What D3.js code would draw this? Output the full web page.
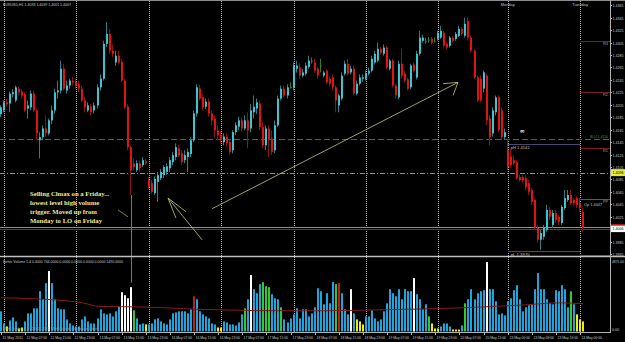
<!DOCTYPE html>
<html><head><meta charset="utf-8">
<script src="https://cdn.jsdelivr.net/npm/d3@7"></script>
<style>html,body{margin:0;padding:0;background:#000;overflow:hidden}svg{display:block}</style>
</head><body>
<svg id="c" width="625" height="342"></svg>
<script>
// ---------------- DATA ----------------
const days = [["11 May",23,23],["12 May",0,23],["13 May",0,23],["16 May",0,23],["17 May",0,23],["18 May",0,23],["19 May",0,23],["20 May",0,22],["23 May",0,23],["24 May",0,1]];
const openP = [
1.4190,1.4196,1.4209,1.4207,1.4222,1.4212,1.4231,1.4226,1.4222,1.4199,
1.4201,1.4223,1.4196,1.4148,1.4153,1.4167,1.4159,1.4180,1.4196,1.4225,
1.4228,1.4263,1.4228,1.4236,1.4244,1.4242,1.4238,1.4231,1.4212,1.4196,
1.4202,1.4196,1.4204,1.4233,1.4247,1.4303,1.4319,1.4292,1.4273,1.4284,
1.4274,1.4244,1.4202,1.4137,1.4111,1.4100,1.4111,1.4108,1.4114,1.4084,
1.4079,1.4063,1.4081,1.4087,1.4092,1.4097,1.4103,1.4113,1.4121,1.4135,
1.4127,1.4116,1.4121,1.4126,1.4148,1.4191,1.4231,1.4217,1.4202,1.4210,
1.4191,1.4183,1.4164,1.4156,1.4145,1.4154,1.4145,1.4132,1.4161,1.4170,
1.4180,1.4167,1.4180,1.4167,1.4193,1.4199,1.4207,1.4169,1.4140,1.4167,
1.4151,1.4132,1.4172,1.4215,1.4231,1.4220,1.4234,1.4233,1.4263,1.4265,
1.4252,1.4255,1.4266,1.4276,1.4273,1.4263,1.4268,1.4252,1.4260,1.4247,
1.4249,1.4233,1.4204,1.4215,1.4255,1.4271,1.4257,1.4263,1.4223,1.4239,
1.4247,1.4247,1.4255,1.4260,1.4273,1.4276,1.4295,1.4287,1.4297,1.4263,
1.4276,1.4236,1.4217,1.4271,1.4255,1.4246,1.4233,1.4270,1.4249,1.4287,
1.4308,1.4308,1.4310,1.4311,1.4308,1.4311,1.4313,1.4321,1.4303,1.4300,
1.4313,1.4311,1.4316,1.4327,1.4316,1.4340,1.4313,1.4292,1.4249,1.4247,
1.4231,1.4252,1.4183,1.4159,1.4193,1.4217,1.4196,1.4153,1.4132,1.4122,
1.4116,1.4113,1.4089,1.4089,1.4087,1.4079,1.4068,1.4052,1.4007,1.3988,
1.3993,1.4004,1.4036,1.4012,1.4031,1.4025,1.4015,1.4039,1.4052,1.4060,
1.4052,1.4055,1.4047,1.4033];
const highP = [
1.4204,1.4212,1.4214,1.4226,1.4230,1.4236,1.4234,1.4230,1.4225,1.4212,
1.4228,1.4228,1.4199,1.4161,1.4172,1.4188,1.4183,1.4204,1.4231,1.4244,
1.4276,1.4270,1.4244,1.4247,1.4250,1.4247,1.4244,1.4236,1.4218,1.4209,
1.4206,1.4209,1.4238,1.4254,1.4308,1.4338,1.4327,1.4302,1.4292,1.4292,
1.4279,1.4247,1.4206,1.4140,1.4119,1.4116,1.4116,1.4121,1.4118,1.4089,
1.4084,1.4090,1.4097,1.4102,1.4108,1.4111,1.4121,1.4129,1.4143,1.4140,
1.4132,1.4132,1.4135,1.4153,1.4196,1.4238,1.4238,1.4222,1.4215,1.4215,
1.4196,1.4188,1.4172,1.4164,1.4159,1.4159,1.4148,1.4164,1.4177,1.4186,
1.4185,1.4188,1.4193,1.4206,1.4220,1.4215,1.4212,1.4177,1.4172,1.4172,
1.4164,1.4180,1.4220,1.4236,1.4236,1.4238,1.4241,1.4273,1.4276,1.4271,
1.4263,1.4273,1.4284,1.4281,1.4279,1.4266,1.4279,1.4260,1.4263,1.4250,
1.4254,1.4236,1.4223,1.4257,1.4276,1.4279,1.4268,1.4268,1.4244,1.4254,
1.4254,1.4260,1.4265,1.4284,1.4292,1.4305,1.4298,1.4302,1.4300,1.4279,
1.4279,1.4239,1.4276,1.4295,1.4260,1.4249,1.4271,1.4273,1.4292,1.4324,
1.4318,1.4313,1.4314,1.4314,1.4313,1.4324,1.4332,1.4324,1.4306,1.4316,
1.4316,1.4322,1.4332,1.4330,1.4345,1.4345,1.4316,1.4295,1.4252,1.4252,
1.4260,1.4255,1.4188,1.4201,1.4220,1.4220,1.4201,1.4167,1.4148,1.4135,
1.4124,1.4116,1.4092,1.4092,1.4092,1.4084,1.4071,1.4055,1.4012,1.4004,
1.4012,1.4044,1.4041,1.4036,1.4036,1.4028,1.4044,1.4068,1.4068,1.4068,
1.4055,1.4058,1.4055,1.4039];
const lowP = [
1.4185,1.4193,1.4202,1.4193,1.4217,1.4209,1.4220,1.4215,1.4193,1.4183,
1.4196,1.4193,1.4148,1.4119,1.4148,1.4153,1.4156,1.4174,1.4191,1.4215,
1.4223,1.4228,1.4223,1.4231,1.4236,1.4231,1.4225,1.4209,1.4193,1.4193,
1.4188,1.4191,1.4199,1.4228,1.4244,1.4298,1.4287,1.4282,1.4268,1.4270,
1.4241,1.4198,1.4132,1.4060,1.4100,1.4097,1.4098,1.4105,1.4108,1.4070,
1.4062,1.4060,1.4049,1.4084,1.4087,1.4092,1.4097,1.4108,1.4116,1.4121,
1.4108,1.4111,1.4097,1.4121,1.4145,1.4186,1.4212,1.4196,1.4198,1.4186,
1.4172,1.4153,1.4148,1.4143,1.4140,1.4138,1.4124,1.4127,1.4156,1.4164,
1.4162,1.4164,1.4135,1.4161,1.4183,1.4190,1.4164,1.4135,1.4132,1.4121,
1.4124,1.4127,1.4169,1.4212,1.4217,1.4215,1.4231,1.4228,1.4257,1.4247,
1.4249,1.4252,1.4263,1.4271,1.4257,1.4247,1.4257,1.4249,1.4238,1.4234,
1.4228,1.4193,1.4193,1.4212,1.4252,1.4252,1.4254,1.4220,1.4220,1.4236,
1.4242,1.4244,1.4252,1.4257,1.4270,1.4273,1.4286,1.4284,1.4262,1.4260,
1.4233,1.4215,1.4214,1.4247,1.4241,1.4228,1.4230,1.4257,1.4246,1.4284,
1.4305,1.4303,1.4305,1.4302,1.4305,1.4308,1.4311,1.4297,1.4294,1.4297,
1.4305,1.4308,1.4314,1.4316,1.4313,1.4308,1.4289,1.4246,1.4209,1.4209,
1.4225,1.4172,1.4140,1.4154,1.4188,1.4161,1.4148,1.4150,1.4100,1.4103,
1.4108,1.4084,1.4081,1.4079,1.4068,1.4060,1.4044,1.4004,1.3983,1.3972,
1.3988,1.4001,1.4020,1.4007,1.4015,1.4012,1.4012,1.4036,1.4049,1.4044,
1.4042,1.4039,1.4033,1.4001];
const closeP = [
1.4201,1.4209,1.4206,1.4223,1.4225,1.4233,1.4225,1.4220,1.4196,1.4204,
1.4223,1.4196,1.4159,1.4153,1.4167,1.4159,1.4180,1.4196,1.4225,1.4228,
1.4263,1.4231,1.4236,1.4244,1.4241,1.4236,1.4231,1.4212,1.4201,1.4204,
1.4193,1.4204,1.4233,1.4247,1.4303,1.4319,1.4292,1.4287,1.4284,1.4273,
1.4244,1.4201,1.4137,1.4100,1.4105,1.4111,1.4103,1.4116,1.4111,1.4073,
1.4065,1.4086,1.4092,1.4097,1.4105,1.4106,1.4116,1.4124,1.4137,1.4124,
1.4113,1.4124,1.4129,1.4148,1.4191,1.4233,1.4215,1.4201,1.4210,1.4191,
1.4180,1.4164,1.4156,1.4148,1.4154,1.4143,1.4129,1.4161,1.4172,1.4180,
1.4167,1.4180,1.4164,1.4196,1.4202,1.4209,1.4169,1.4140,1.4167,1.4148,
1.4129,1.4172,1.4215,1.4231,1.4220,1.4233,1.4234,1.4268,1.4268,1.4252,
1.4257,1.4268,1.4276,1.4276,1.4260,1.4252,1.4268,1.4257,1.4241,1.4239,
1.4233,1.4212,1.4220,1.4252,1.4271,1.4255,1.4263,1.4223,1.4239,1.4249,
1.4249,1.4255,1.4260,1.4279,1.4287,1.4295,1.4289,1.4297,1.4265,1.4276,
1.4236,1.4220,1.4271,1.4252,1.4244,1.4231,1.4268,1.4260,1.4287,1.4313,
1.4313,1.4308,1.4310,1.4305,1.4308,1.4321,1.4324,1.4300,1.4297,1.4313,
1.4308,1.4319,1.4327,1.4319,1.4335,1.4313,1.4292,1.4249,1.4212,1.4212,
1.4257,1.4180,1.4153,1.4196,1.4217,1.4164,1.4153,1.4161,1.4105,1.4108,
1.4111,1.4087,1.4084,1.4084,1.4073,1.4065,1.4049,1.4007,1.3988,1.3999,
1.4007,1.4036,1.4025,1.4031,1.4020,1.4017,1.4041,1.4055,1.4060,1.4047,
1.4047,1.4044,1.4039,1.4007];
const volume = [
1413,565,353,777,989,707,212,283,707,1272,
1272,1625,1625,2826,2261,3391,4239,3391,2261,1625,
1554,1554,848,565,424,353,353,848,1060,707,
565,565,918,1554,1272,1201,1272,1060,1413,1766,
2755,2543,2331,3109,1484,918,495,565,495,495,
565,848,918,707,565,495,848,1272,1342,1413,
1413,1413,1272,1554,2473,2261,1413,1201,1060,918,
565,495,283,283,707,636,495,495,424,636,
1201,1625,2261,3956,2967,2685,3321,3462,3180,3109,
2614,2331,2261,1696,848,636,918,1201,1625,918,
1554,1554,1060,1272,1696,3038,2826,1908,2685,1978,
3462,3321,3391,2685,1554,1201,2967,1272,848,707,
495,1060,1060,1484,918,707,848,1413,1978,2967,
2685,2473,2967,2261,2967,2826,2826,3744,2614,2261,
1554,1908,1060,565,212,212,353,565,565,353,
141,141,141,424,1978,2261,2967,2261,2685,2826,
2897,4875,2967,2967,2120,1201,1272,1130,2120,2331,
2897,3250,2261,1413,1696,1837,1908,2967,4098,2967,
2967,2261,1978,1908,2897,2826,3250,2967,1696,2826,
1908,1201,848,707];
// Better Volume class: N normal, L low, W climax (white), G churn, R climax up
const volClass = (
"NNLNNNLLNN"+"NNNNNNWNNN"+"NNNNNNNNNN"+"NNNNNNNNNN"+"WWWWGNNNLN"+
"NNNNNNNNNN"+"NNNNRNNNNN"+"NNLLNNNNNN"+"NGNWNNNGGG"+"NNNGNNNNNN"+
"NNNNNNNNNN"+"NGRNNNWNLL"+"LNNNNNNNNN"+"NNNNNNNWNN"+"NNGLLLNNNN"+
"LLLNGNNNNN"+"NWNNNNNNNN"+"NNNNNNNNNN"+"NNNNNNNNNG"+"NLLL").split("");
const volMA = [[0,2367],[11,2296],[17,2226],[27,2013],[33,1752],[44,1731],[55,1660],[66,1550],[99,1448],[135,1560],[142,1590],[163,1752],[174,1872],[185,2013],[193,1943]];
const priceTicks = [1.4365,1.4345,1.4325,1.4305,1.4285,1.4265,1.4245,1.4225,1.4205,1.4185,1.4165,1.4145,1.4125,1.4105,1.4085,1.4065,1.4045,1.4025,1.4005,1.3985,1.3965];
const xTickLabels = ["11 May 2011","12 May 07:00","12 May 15:00","12 May 23:00","13 May 07:00","13 May 15:00","13 May 23:00","16 May 07:00","16 May 15:00","16 May 23:00","17 May 07:00","17 May 15:00","17 May 23:00","18 May 07:00","18 May 15:00","18 May 23:00","19 May 07:00","19 May 15:00","19 May 23:00","20 May 07:00","20 May 15:00","23 May 00:00","23 May 08:00","23 May 16:00","24 May 00:00"];
const pivots = [["R3",1.4308],["R2",1.4225],["R1",1.4136],["PP",1.4053],["S1",1.3964]];
const prevDay = {high:1.4142, low:1.3970, open:1.4047};
const levelLines = {green:1.4150, yellow:1.4096, ask:1.4009, bid:1.4006};
const volAxis = [4875, 0];
const noteLines = ["Selling Clmax on a Friday...","lowest level high volume","trigger.  Moved up from","Monday to LO on Friday"];
// drawn objects (bar index, price)
const trendArrow = [[70,1.4038],[151.5,1.4241]];
const trendHead = [[146.6,1.4239],[151.5,1.4241],[149.9,1.4220]];
const arrow2 = [[66.7,1.3988],[55.4,1.4055]];
const arrow2Head = [[61.4,1.4033],[55.4,1.4055],[58,1.4023]];
const pointer = [[38.8,1.4036],[42.1,1.4025]];

// ---------------- BUILD ----------------
const times = [];
days.forEach(([d,a,b])=>{for(let h=a;h<=b;h++) times.push(d+" "+String(h).padStart(2,"0")+":00");});
const bars = times.map((t,i)=>({t,i,o:openP[i],h:highP[i],l:lowP[i],c:closeP[i],v:volume[i],k:volClass[i]}));

const svg = d3.select("#c");
const W=625, H=342, PR=610, PT=1, PB=256, VB=331.5, VT=262;
svg.append("rect").attr("width",W).attr("height",H).attr("fill","#000");

const x = d3.scaleBand().domain(times).range([-0.52,584.6]).padding(0);
const cx = t => x(t)+x.bandwidth()/2;
const xi = i => { const a=Math.floor(i), f=i-a; const s=x.step(); return cx(times[Math.min(a,times.length-1)])+f*s; };
const y = d3.scaleLinear().domain([prevDay.low, prevDay.high]).range([251,144]);
const yv = d3.scaleLinear().domain([0,4875]).range([VB,VT]);

const defs = svg.append("defs");
defs.append("clipPath").attr("id","pc").append("rect").attr("x",0).attr("y",PT).attr("width",PR).attr("height",PB-PT);
defs.append("clipPath").attr("id","vc").append("rect").attr("x",0).attr("y",258).attr("width",PR).attr("height",VB-258+0.5);

const font = "'Liberation Sans', Arial, sans-serif";
const gray = "#c8c8c8";
function small(g, xx, yy, s, len, fill, anchor, fs){
  const t = g.append("text").attr("x",xx).attr("y",yy).attr("font-family",font).attr("font-size",fs||3.6).attr("fill",fill||gray).text(s);
  if(anchor) t.attr("text-anchor",anchor);
  if(len) t.attr("textLength",len).attr("lengthAdjust","spacingAndGlyphs");
  return t;
}

// top border
svg.append("line").attr("x1",0).attr("x2",W).attr("y1",0.5).attr("y2",0.5).attr("stroke","#8c8c8c");

// day separators
const seps = bars.filter(b=>b.t.endsWith("00:00"));
svg.append("g").selectAll("line").data(seps).join("line")
  .attr("x1",d=>Math.round(cx(d.t))+0.5).attr("x2",d=>Math.round(cx(d.t))+0.5)
  .attr("y1",1).attr("y2",332).attr("stroke","#b0b0b0").attr("stroke-dasharray","1,1");
// Monday / Tuesday labels
[["23 May 00:00","Monday",14],["24 May 00:00","Tuesday",16]].forEach(([t,s,l])=>{
  small(svg, cx(t), 6, s, l, gray, "middle", 4);
});

const pg = svg.append("g").attr("clip-path","url(#pc)");

// horizontal level lines
const hl = (p,stroke,dash)=>{const yy=Math.round(y(p))+0.5; const l=pg.append("line").attr("x1",0).attr("x2",PR).attr("y1",yy).attr("y2",yy).attr("stroke",stroke); if(dash) l.attr("stroke-dasharray",dash);};
hl(levelLines.green,"#2f7a25","6,3");
hl(levelLines.yellow,"#9c9c3a","5,2,1,2");
hl(levelLines.ask,"#c87878");
hl(levelLines.bid,"#a01e1e");

// previous day high / low
[[prevDay.high,"pH "+prevDay.high.toFixed(4)],[prevDay.low,"pL "+prevDay.low.toFixed(4)]].forEach(([p,s])=>{
  const yy=Math.round(y(p))+0.5;
  pg.append("line").attr("x1",Math.round(cx("23 May 00:00"))).attr("x2",Math.round(cx("24 May 00:00"))).attr("y1",yy).attr("y2",yy).attr("stroke","#4a4a78");
  small(pg, cx("23 May 01:00"), yy+4, s, 19, "#c0c0c0");
});
// pivots
const pivColor = {R3:"#7a1c1c",R2:"#7a1c1c",R1:"#7a1c1c",PP:"#55558a",S1:"#2a5a2a"};
pivots.forEach(([n,p])=>{
  const yy=Math.round(y(p))+0.5;
  pg.append("line").attr("x1",Math.round(cx("24 May 00:00"))).attr("x2",PR).attr("y1",yy).attr("y2",yy).attr("stroke",pivColor[n]);
  small(pg, 603, yy+3, n, 5, "#a0a0a0");
});
small(pg, cx("24 May 01:00")+1, y(prevDay.open)+3, "Op "+prevDay.open.toFixed(4), 18, "#c0c0c0");
small(pg, 608, y(levelLines.green)-1, "BLU "+levelLines.green.toFixed(4), 18, "#3c9a30", "end");
pg.append("text").attr("x",xi(172.8)).attr("y",y(1.4159)).attr("text-anchor","middle").attr("font-family","'DejaVu Sans',sans-serif").attr("font-weight","bold").attr("font-size",6).attr("fill","#ffffff").text("∞");

// candles
const up = "#3cc4d0", dn = "#e01414", upW="#2f7e86", dnW="#8a1414", doj="#2e7d2e";
const cg = pg.append("g");
bars.forEach(b=>{
  const r = Math.round(cx(b.t));
  const isDoji = b.o===b.c, isUp = b.c>b.o;
  const wc = isDoji?doj:(isUp?upW:dnW);
  cg.append("line").attr("x1",r-0.5).attr("x2",r-0.5).attr("y1",y(b.h)).attr("y2",y(b.l)).attr("stroke",wc);
  const top = y(Math.max(b.o,b.c)), bot = y(Math.min(b.o,b.c));
  cg.append("rect").attr("x",r-1).attr("width",2).attr("y",top).attr("height",Math.max(1,bot-top))
    .attr("fill",isDoji?doj:(isUp?up:dn));
});

// drawn annotation objects
const line = d3.line().x(d=>xi(d[0])).y(d=>y(d[1]));
const ann = "#c8c878";
[trendArrow,trendHead,arrow2,arrow2Head].forEach(p=>pg.append("path").attr("d",line(p)).attr("fill","none").attr("stroke",ann).attr("stroke-width",0.8));
pg.append("path").attr("d",line(pointer)).attr("fill","none").attr("stroke","#a0a070").attr("stroke-width",0.8);
noteLines.forEach((s,k)=>{
  pg.append("text").attr("x",xi(9.6)).attr("y",y(1.4058)+k*9).attr("font-family","'Liberation Serif','Times New Roman',serif")
    .attr("font-weight","bold").attr("font-size",6.7).attr("fill","#ecec8e").text(s);
});
// vertical line linking climax candle to its volume
svg.append("line").attr("x1",Math.round(cx(times[43]))+0.5).attr("x2",Math.round(cx(times[43]))+0.5)
  .attr("y1",y(lowP[43])).attr("y2",yv(3426)).attr("stroke","#7c7c5a");

// panel separator
svg.append("line").attr("x1",0).attr("x2",W).attr("y1",256.5).attr("y2",256.5).attr("stroke","#c0c0c0").attr("stroke-width",1.6);

// volume
const vColor = {N:"#1ea6dc",L:"#f0ee10",W:"#ffffff",G:"#2ecc2e",R:"#c01c1c"};
const vg = svg.append("g").attr("clip-path","url(#vc)");
vg.selectAll("rect").data(bars).join("rect")
  .attr("x",d=>Math.round(cx(d.t))-1).attr("width",2)
  .attr("y",d=>yv(d.v)).attr("height",d=>VB-yv(d.v)).attr("fill",d=>vColor[d.k]);
vg.append("path").attr("d",d3.line().x(d=>xi(d[0])).y(d=>yv(d[1])).curve(d3.curveMonotoneX)(volMA))
  .attr("fill","none").attr("stroke","#8a1a1a").attr("stroke-width",1);
small(svg, 3, 263, "Better Volume 1.4 0.0000 744.0000 0.0000 0.0000 0.0000 0.0000 1490.0000", 120);
small(svg, 3, 330, "MetaTrader 4, © 2001-2011 MetaQuotes Software Corp.", 95, "#9a9a9a");

// top-left title
small(svg, 3, 5.5, "EURUSD,H1  "+[openP[193],highP[193],lowP[193],closeP[193]].map(v=>v.toFixed(4)).join(" "), 68);

// right price axis
svg.append("line").attr("x1",PR+0.5).attr("x2",PR+0.5).attr("y1",0).attr("y2",333).attr("stroke","#b0b0b0");
const ag = svg.append("g");
priceTicks.forEach(p=>{
  const yy=Math.round(y(p))+0.5;
  ag.append("line").attr("x1",PR).attr("x2",PR+2).attr("y1",yy).attr("y2",yy).attr("stroke","#b0b0b0");
  small(ag, PR+2.5, yy+1.4, p.toFixed(4), 11);
});
[[levelLines.yellow,"#e8e83a"],[levelLines.bid,"#ffffff"]].forEach(([p,c])=>{
  const yy=y(p);
  ag.append("rect").attr("x",PR+1).attr("y",yy-3.5).attr("width",W-PR).attr("height",7).attr("fill",c);
  small(ag, PR+2.5, yy+1.4, p.toFixed(4), 11, "#000");
});
ag.append("rect").attr("x",PR+1).attr("y",y(levelLines.ask)-2.5).attr("width",W-PR).attr("height",1.5).attr("fill","#e02020");
// volume axis
volAxis.forEach((v,k)=>{
  small(ag, PR+2, k===0?yv(v)+1:yv(v)-1, v.toFixed(2), k===0?12:7, gray, null, 3.3);
});

// bottom time axis
svg.append("line").attr("x1",0).attr("x2",PR).attr("y1",332.5).attr("y2",332.5).attr("stroke","#b0b0b0");
xTickLabels.forEach((s,k)=>{
  const t = times[k*8], xx = Math.round(cx(t))+0.5;
  svg.append("line").attr("x1",xx).attr("x2",xx).attr("y1",332).attr("y2",335).attr("stroke","#b0b0b0");
  small(svg, xx+1, 339, s, 20.5);
});
</script>
</body></html>
